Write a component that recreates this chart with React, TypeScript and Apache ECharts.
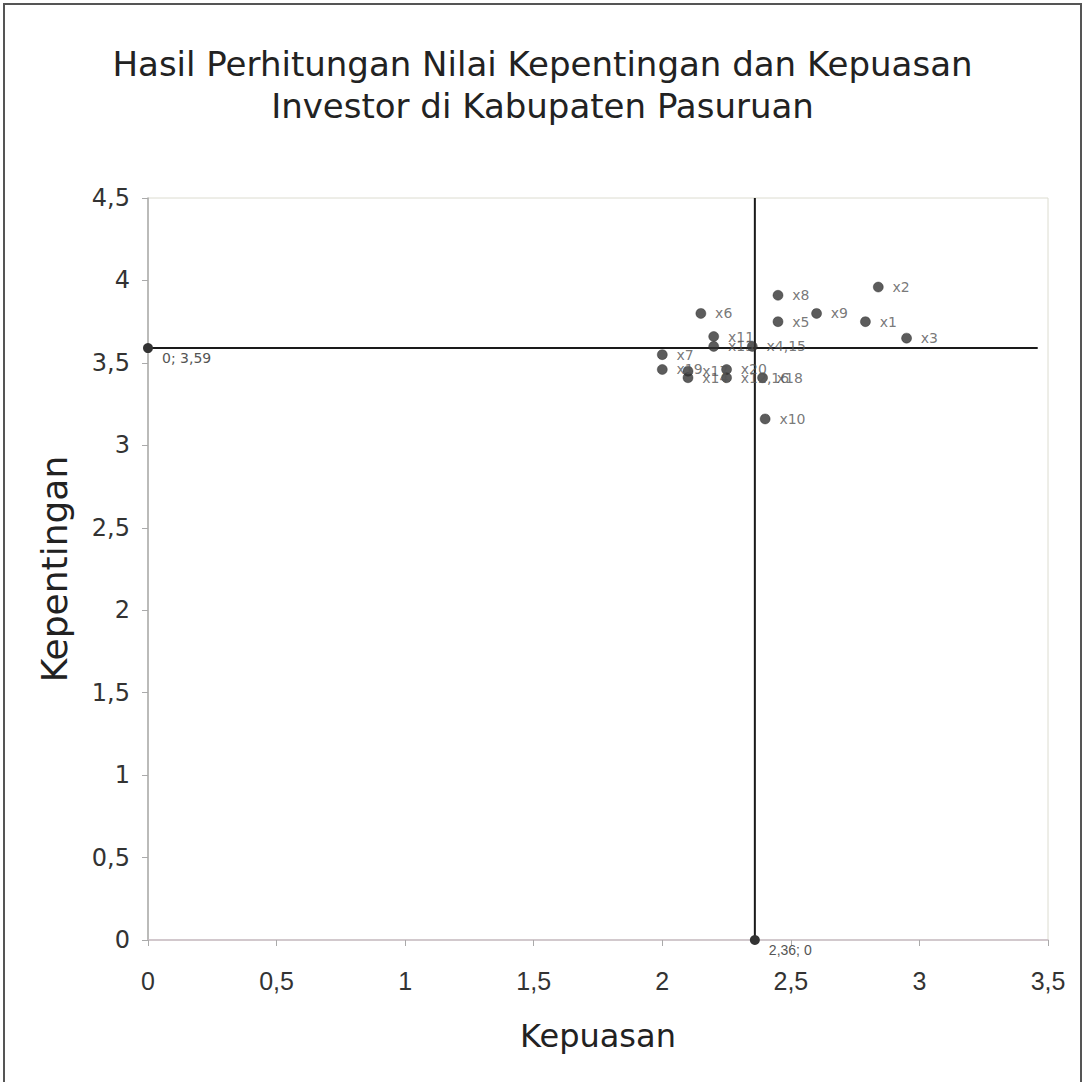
import React, { useEffect, useRef } from "react";
import * as echarts from "echarts";

// Atribut (x = kepuasan, y = kepentingan)
const pointLabels = ["x1", "x2", "x3", "x4,15", "x5", "x6", "x7", "x8", "x9", "x10", "x11", "x12,16", "x13", "x14", "x17", "x18", "x19", "x20"];
const kepuasan = [2.79, 2.84, 2.95, 2.35, 2.45, 2.15, 2.0, 2.45, 2.6, 2.4, 2.2, 2.25, 2.2, 2.1, 2.1, 2.39, 2.0, 2.25];
const kepentingan = [3.75, 3.96, 3.65, 3.6, 3.75, 3.8, 3.55, 3.91, 3.8, 3.16, 3.66, 3.41, 3.6, 3.41, 3.45, 3.41, 3.46, 3.46];

// Garis rata-rata
const meanKepuasan = 2.36;
const meanKepentingan = 3.59;
const horizontalLine = [[0, meanKepentingan], [3.46, meanKepentingan]];
const verticalLine = [[meanKepuasan, 0], [meanKepuasan, 4.5]];
const horizontalLabel = "0; 3,59";
const verticalLabel = "2,36; 0";

const xTicks = { min: 0, max: 3.5, interval: 0.5 };
const yTicks = { min: 0, max: 4.5, interval: 0.5 };

const titleText = "Hasil Perhitungan Nilai Kepentingan dan Kepuasan\nInvestor di Kabupaten Pasuruan";
const xName = "Kepuasan";
const yName = "Kepentingan";

const comma = (v: number) => String(v).replace(".", ",");

export default function App() {
  const ref = useRef<HTMLDivElement>(null);
  useEffect(() => {
    document.body.style.margin = "0";
    if (!ref.current) return;
    const chart = echarts.init(ref.current, null, { renderer: "svg" });
    const pointLabelStyle = {
      show: true,
      position: "right" as const,
      distance: 9,
      offset: [0, 9],
      fontFamily: "DejaVu Sans",
      fontSize: 14,
      color: "#555",
    };
    const lineSeries = (pts: number[][], label: string, labelFont: string, labelSize: number) => ({
      type: "line",
      silent: true,
      lineStyle: { color: "#1a1a1a", width: 2 },
      z: 1,
      data: pts.map((p, i) =>
        i === 0
          ? {
              value: p,
              symbol: "circle",
              symbolSize: 10,
              itemStyle: { color: "#333" },
              label: { show: true, formatter: label, position: "right", distance: 9, offset: [0, 10], fontFamily: labelFont, fontSize: labelSize, color: "#555" },
            }
          : { value: p, symbol: "none" }
      ),
    });
    chart.setOption({
      animation: false,
      backgroundColor: "#fff",
      title: {
        text: titleText,
        left: "center",
        top: 38,
        textStyle: { fontFamily: "DejaVu Sans", fontSize: 34, fontWeight: "normal", color: "#222", lineHeight: 42 },
      },
      graphic: [
        {
          type: "rect",
          shape: { x: 4, y: 4, width: 1077, height: 1100 },
          style: { fill: "none", stroke: "#555", lineWidth: 2 },
          silent: true,
        },
      ],
      grid: { left: 148, right: 37, top: 198, bottom: 142, show: true, borderColor: "#dcdcd0", borderWidth: 1 },
      xAxis: {
        type: "value",
        ...xTicks,
        name: xName,
        nameLocation: "middle",
        nameGap: 80,
        nameTextStyle: { fontFamily: "DejaVu Sans", fontSize: 32, color: "#222" },
        axisLine: { show: true, onZero: false, lineStyle: { color: "#c9bcc4", width: 1.5 } },
        axisTick: { show: true, inside: false, length: 6, lineStyle: { color: "#aaa" } },
        splitLine: { show: false },
        axisLabel: { margin: 28, fontFamily: "Liberation Sans", fontSize: 25, color: "#333", formatter: comma },
      },
      yAxis: {
        type: "value",
        ...yTicks,
        name: yName,
        nameLocation: "middle",
        nameGap: 76,
        nameRotate: 90,
        nameTextStyle: { fontFamily: "DejaVu Sans", fontSize: 36, color: "#222" },
        axisLine: { show: true, onZero: false, lineStyle: { color: "#aaa", width: 1.5 } },
        axisTick: { show: true, inside: false, length: 6, lineStyle: { color: "#aaa" } },
        splitLine: { show: false },
        axisLabel: { margin: 18, fontFamily: "DejaVu Sans", fontSize: 24, color: "#333", formatter: comma },
      },
      series: [
        lineSeries(horizontalLine, horizontalLabel, "DejaVu Sans", 14),
        lineSeries(verticalLine, verticalLabel, "Liberation Sans", 14),
        {
          type: "scatter",
          symbolSize: 10,
          z: 3,
          itemStyle: { color: "#333", borderColor: "#222", borderWidth: 0.5 },
          label: { ...pointLabelStyle, formatter: "{b}" },
          labelLayout: { hideOverlap: false },
          data: pointLabels.map((n, i) => ({ name: n, value: [kepuasan[i], kepentingan[i]] })),
        },
      ],
    });
    return () => chart.dispose();
  }, []);
  return <div ref={ref} style={{ width: 1085, height: 1082 }} />;
}
